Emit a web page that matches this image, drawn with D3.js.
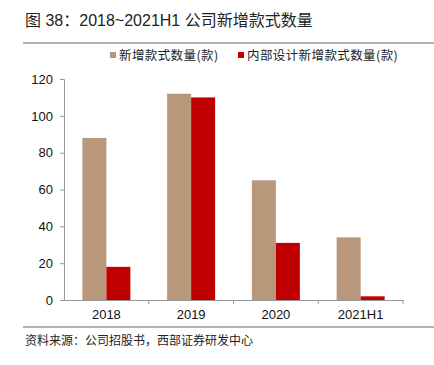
<!DOCTYPE html>
<html><head><meta charset="utf-8">
<script src="https://cdn.jsdelivr.net/npm/d3@7"></script>
<style>body{margin:0;background:#fff;}svg{display:block;}</style>
</head><body>
<svg id="c" width="434" height="365"></svg>
<script>
const categories = ["2018","2019","2020","2021H1"];
const seriesNames = ["新增款式数量(款)","内部设计新增款式数量(款)"];
const newStyles = [88,112,65,34];
const internalStyles = [18,110,31,2];
const yTicks = [0,20,40,60,80,100,120];
const colors = ["#B8977A","#C00000"];

const svg = d3.select("#c");
const m = {l:64,r:403,t:79,b:300};
const x = d3.scaleBand().domain(categories).range([m.l,m.r]);
const y = d3.scaleLinear().domain([0,120]).range([m.b,m.t]);
const bw = 24;

// title
svg.append("text").attr("x",25).attr("y",26).attr("font-family","Liberation Sans, Noto Sans CJK SC").attr("font-size",16).attr("fill","#222").text("图 38：2018~2021H1 公司新增款式数量");
svg.append("line").attr("x1",23).attr("x2",434).attr("y1",43).attr("y2",43).attr("stroke","#666").attr("stroke-width",1.2);

// legend
const lg = svg.append("g").attr("font-family","Noto Sans CJK SC").attr("font-size",12.5).attr("fill","#222").attr("letter-spacing",0.4);
const lx = [110,238];
seriesNames.forEach((n,i)=>{
  lg.append("rect").attr("x",lx[i]).attr("y",52).attr("width",6).attr("height",6).attr("fill",colors[i]);
  lg.append("text").attr("x",lx[i]+9).attr("y",60).text(n);
});

// bars
const data = [newStyles, internalStyles];
data.forEach((arr,si)=>{
  svg.append("g").selectAll("rect").data(categories).join("rect")
    .attr("x",d=>x(d)+x.bandwidth()/2 - bw + si*bw)
    .attr("y",(d,i)=>y(arr[i]))
    .attr("width",bw)
    .attr("height",(d,i)=>y(0)-y(arr[i]))
    .attr("fill",colors[si]);
});

// y axis
const ya = svg.append("g").attr("transform",`translate(${m.l},0)`)
  .call(d3.axisLeft(y).tickValues(yTicks).tickSize(4).tickPadding(7));
ya.select(".domain").attr("stroke","#999");
ya.selectAll(".tick line").attr("stroke","#999");
ya.selectAll("text").attr("font-family","Liberation Sans, Arial").attr("font-size",13).attr("fill","#111");

// x axis
const xa = svg.append("g").attr("transform",`translate(0,${m.b})`)
  .call(d3.axisBottom(x).tickSize(0).tickPadding(10));
xa.select(".domain").attr("stroke","#999");
xa.selectAll("text").attr("font-family","Liberation Sans, Arial").attr("font-size",13).attr("fill","#111");
xa.selectAll(".tick line").remove();
svg.append("g").selectAll("line").data(categories).join("line")
  .attr("x1",d=>x(d)+x.bandwidth()).attr("x2",d=>x(d)+x.bandwidth())
  .attr("y1",m.b).attr("y2",m.b+4).attr("stroke","#999");

// source
svg.append("line").attr("x1",23).attr("x2",434).attr("y1",327).attr("y2",327).attr("stroke","#666").attr("stroke-width",1.2);
svg.append("text").attr("x",25).attr("y",345).attr("font-family","Noto Sans CJK SC").attr("font-size",12).attr("fill","#222").text("资料来源：公司招股书，西部证券研发中心");
</script>
</body></html>
